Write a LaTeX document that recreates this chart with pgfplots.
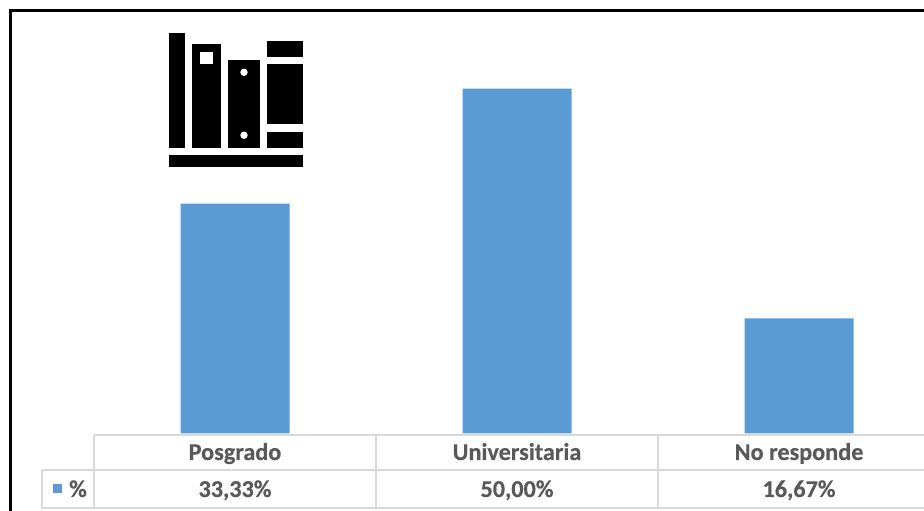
\documentclass[border=0pt]{standalone}
\usepackage{pgfplots}
\pgfplotsset{compat=1.18}
\usepackage{fontspec}
\setmainfont{Carlito}[BoldFeatures={FakeBold=0.4}]
\definecolor{barblue}{HTML}{5B9BD5}
\definecolor{tablegrid}{HTML}{D9D9D9}
\definecolor{tabletext}{HTML}{595959}
\begin{document}
\begin{tikzpicture}[x=1pt,y=1pt]
\path[use as bounding box] (0,0) rectangle (924,511);
\clip (0,0) rectangle (924,511);
\begin{axis}[
  at={(94pt,77.5pt)}, anchor=south west,
  scale only axis, width=846pt, height=414pt,
  xmin=-0.5, xmax=2.5, ymin=0, ymax=60,
  axis lines=none, ticks=none, clip=false,
  ybar, bar width=109pt,
]
\addplot[fill=barblue, draw=none] coordinates {(0,33.33) (1,50.00) (2,16.67)};
\end{axis}
\begin{scope}[y=-1pt, yshift=511pt]
  % chart frame
  \draw[black, line width=3pt] (10.5,513) -- (10.5,10.5) -- (930,10.5);
  % data table grid
  \draw[tablegrid, line width=2pt]
    (94,435) -- (930,435)
    (42,470.5) -- (930,470.5)
    (41,508.5) -- (930,508.5)
    (42,470.5) -- (42,508.5)
    (94,435) -- (94,508.5)
    (376,435) -- (376,508.5)
    (658,435) -- (658,508.5);
  % data table text
  \begin{scope}[every node/.style={text=tabletext, font=\fontsize{24.2}{26}\selectfont\bfseries, anchor=base, inner sep=0pt}]
    \node at (235,460) {Posgrado};
    \node at (517,460) {Universitaria};
    \node at (799,460) {No responde};
    \node at (78,497) {\%};
    \node at (235,497) {33,33\%};
    \node at (517,497) {50,00\%};
    \node at (799,497) {16,67\%};
  \end{scope}
  \fill[barblue] (53,484) rectangle (62,493);
  % book-shelf icon
  \fill[black] (169,33) rectangle (185,148);
  \fill[black] (192.3,44.3) rectangle (220.7,147.7);
  \fill[white] (200.3,52.3) rectangle (212.7,64.3);
  \fill[black] (228.3,60.3) rectangle (259.7,147.7);
  \fill[white] (244,72.3) circle[radius=3.7pt];
  \fill[white] (244,135.3) circle[radius=3.7pt];
  \fill[black] (267,41) rectangle (303,57);
  \fill[black] (267.3,64.3) rectangle (303.3,123.7);
  \fill[black] (267.3,131.7) rectangle (303.3,147.7);
  \fill[black] (169,155) rectangle (303.3,167.3);
\end{scope}
\end{tikzpicture}
\end{document}
